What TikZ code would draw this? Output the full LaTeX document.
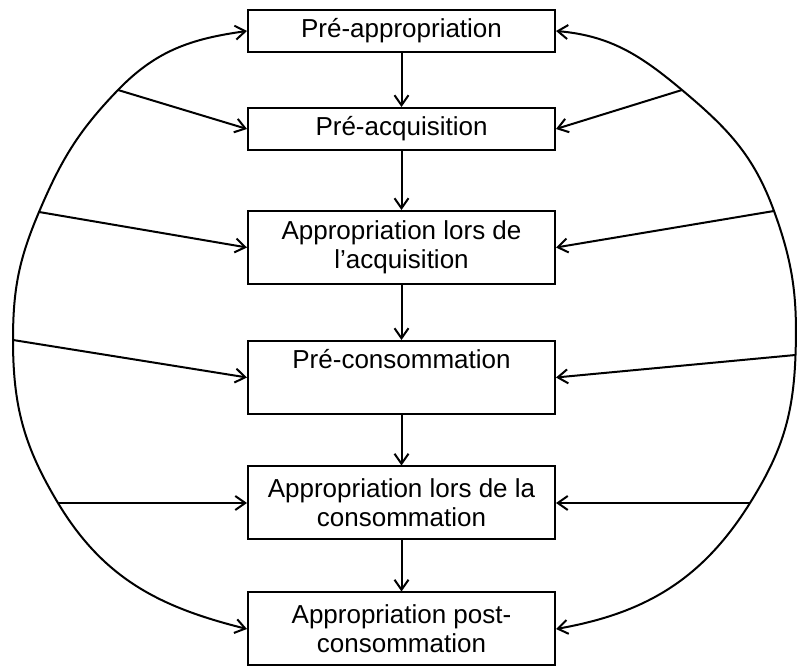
\documentclass[tikz,border=0pt]{standalone}
\usepackage{fontspec}
\setmainfont{Liberation Sans}
\usetikzlibrary{arrows.meta}

\begin{document}
\begin{tikzpicture}[x=1pt,y=1pt,line width=2pt,
  >={Straight Barb[length=10pt,width=14pt]},
  phase/.style={draw,minimum width=307pt,minimum height=42pt,inner sep=4pt,
    align=center,font=\fontsize{26}{29}\selectfont},
  tallphase/.style={phase,minimum height=73pt}]
\useasboundingbox (0,0) rectangle (797,668);

\node[phase] (preappr) at (401.5,637) {Pré-appropriation};
\node[phase] (preacq) at (401.5,539) {Pré-acquisition};
\node[tallphase] (acq) at (401.5,420.5) {Appropriation lors de\\l’acquisition};
\node[tallphase] (precons) at (401.5,290.5) {Pré-consommation\\\strut};
\node[tallphase] (cons) at (401.5,165) {Appropriation lors de la\\consommation};
\node[tallphase] (post) at (401.5,39) {Appropriation post-\\consommation};

\foreach \a/\b in {preappr/preacq,preacq/acq,acq/precons,precons/cons,cons/post}
   \draw[->] (\a) -- (\b);

% points on the two arcs
\coordinate (la) at (118,578);
\coordinate (lb) at (39,456);
\coordinate (lc) at (13,328);
\coordinate (ld) at (58,165);
\coordinate (ra) at (682,578);
\coordinate (rb) at (774,457);
\coordinate (rc) at (795.5,313);
\coordinate (rd) at (750,165);

\draw[<->] (preappr.west) to[out=188,in=46] (la) to[out=226,in=67] (lb)
   to[out=247,in=90] (lc) to[out=270,in=121] (ld) to[out=301,in=166] (post.west);
\draw[<->] (preappr.east) to[out=355,in=140] (ra) to[out=320,in=110] (rb)
   to[out=290,in=88] (rc) to[out=268,in=58] (rd) to[out=238,in=10] (post.east);

\foreach \p/\n in {la/preacq,lb/acq,lc/precons,ld/cons}
    \draw[->] (\p) -- (\n.west);
\foreach \p/\n in {ra/preacq,rb/acq,rc/precons,rd/cons}
    \draw[->] (\p) -- (\n.east);

\end{tikzpicture}
\end{document}
